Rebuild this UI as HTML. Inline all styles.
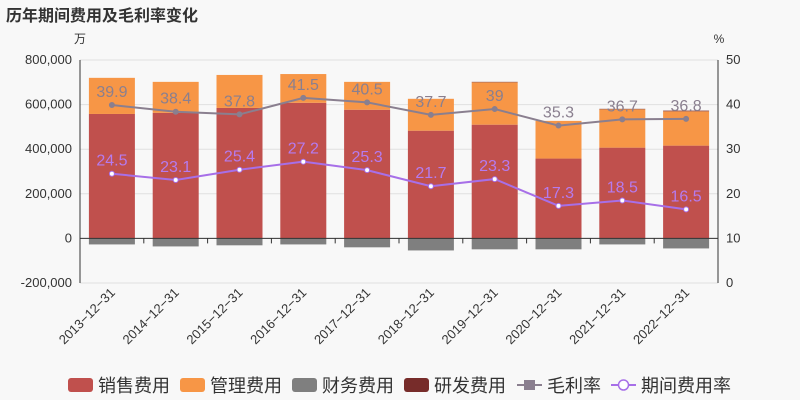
<!DOCTYPE html>
<html><head><meta charset="utf-8"><style>
html,body{margin:0;padding:0;background:#f8f8f8;}
svg{display:block;font-family:"Liberation Sans","Noto Sans CJK SC",sans-serif;}
</style></head><body>
<svg id="c" width="800" height="400">
<rect width="800" height="400" fill="#f8f8f8"/>
<text x="6" y="21" font-size="16" font-weight="bold" fill="#333">历年期间费用及毛利率变化</text>
<text x="80" y="43" font-size="12" fill="#333" text-anchor="middle">万</text>
<text x="719" y="43" font-size="12" fill="#333" text-anchor="middle">%</text>
<g id="grid"></g><g id="bars"></g><g id="lines"></g><g id="axes"></g><g id="legend"></g>
</svg>
<script>
const categories=["2013-12-31","2014-12-31","2015-12-31","2016-12-31","2017-12-31","2018-12-31","2019-12-31","2020-12-31","2021-12-31","2022-12-31"];
const sales=[558000,563000,585000,608000,577000,483000,510000,358000,407000,416000];
const mgmt=[162000,139000,148000,129000,125000,143000,190000,169000,172000,154000];
const finance=[-27000,-36000,-31000,-27000,-40000,-54000,-49000,-49000,-27000,-45000];
const rnd=[0,0,0,0,0,0,2000,0,2000,3000];
const grossMargin=[39.9,38.4,37.8,41.5,40.5,37.7,39,35.3,36.7,36.8];
const periodRate=[24.5,23.1,25.4,27.2,25.3,21.7,23.3,17.3,18.5,16.5];
const leftTicks=[-200000,0,200000,400000,600000,800000];
const rightTicks=[0,10,20,30,40,50];
const NS="http://www.w3.org/2000/svg";
const X0=80,X1=718,Y0=283,Y1=60;
const yL=v=>Y0-(v+200000)/1000000*(Y0-Y1);
const yR=v=>Y0-v/50*(Y0-Y1);
const band=(X1-X0)/categories.length;
const xC=i=>X0+band*(i+0.5);
function mk(tag,a,p,txt){const e=document.createElementNS(NS,tag);for(const k in a)e.setAttribute(k,a[k]);if(txt!==undefined)e.textContent=txt;document.getElementById(p).appendChild(e);return e;}
leftTicks.forEach((t,i)=>{
  const y=yL(t);
  const l=mk('line',{x1:X0,x2:X1,y1:y,y2:y,stroke:'#e0e0e0'},'grid');
  
  
  const tx=mk('text',{x:X0-8,y:y+4,'font-size':13,fill:'#333','text-anchor':'end'},'axes',t.toLocaleString('en-US'));
  
  
});
rightTicks.forEach(t=>{
  const tx=mk('text',{x:X1+8,y:yR(t)+4,'font-size':13,fill:'#333'},'axes',String(t));
  
  
});
let a=mk('line',{x1:X0,x2:X0,y1:Y1,y2:Y0,stroke:'#333'},'axes');

a=mk('line',{x1:X1,x2:X1,y1:Y1,y2:Y0,stroke:'#333'},'axes');

a=mk('line',{x1:X0,x2:X1,y1:yL(0),y2:yL(0),stroke:'#333'},'axes');

const bw=46;
categories.forEach((c,i)=>{
  const x=xC(i)-bw/2;
  const s=mk('rect',{x:x,y:yL(sales[i]),width:bw,height:yL(0)-yL(sales[i]),fill:'#c0504d'},'bars');
  
  const m=mk('rect',{x:x,y:yL(sales[i]+mgmt[i]),width:bw,height:yL(sales[i])-yL(sales[i]+mgmt[i]),fill:'#f79646'},'bars');
  
  const top=sales[i]+mgmt[i];
  const r=mk('rect',{x:x,y:yL(top+rnd[i]),width:bw,height:yL(top)-yL(top+rnd[i]),fill:'#772c2a'},'bars');
  
  const f=mk('rect',{x:x,y:yL(0),width:bw,height:yL(finance[i])-yL(0),fill:'#7f7f7f'},'bars');
  
  const tk=mk('line',{x1:X0+band*i,x2:X0+band*i,y1:yL(0),y2:yL(0)+5,stroke:'#333'},'axes');
  
  const lb=mk('text',{x:xC(i)+4,y:yL(0)+55,'font-size':13,fill:'#333','text-anchor':'end',transform:`rotate(-45 ${xC(i)+4} ${yL(0)+55})`},'axes',c.replace(/-/g,'−'));
  
});
function series(vals,color,labelColor,name,marker){
  const pts=vals.map((v,i)=>xC(i)+','+yR(v)).join(' ');
  const pl=mk('polyline',{points:pts,fill:'none',stroke:color,'stroke-width':2},'lines');
  
  vals.forEach((v,i)=>{
    const p=mk('circle',{cx:xC(i),cy:yR(v),r:2.5,fill:marker==='c'?'#fff':color,stroke:color},'lines');
    
    const t=mk('text',{x:xC(i),y:yR(v)-8,'font-size':16,fill:labelColor,'text-anchor':'middle'},'lines',String(v));
    
  });
}
series(grossMargin,'#8a7f8f','#8a7f8f','gross-margin','s');
series(periodRate,'#a76fe8','#b57bee','period-rate','c');
const leg=[["销售费用","#c0504d",68],["管理费用","#f79646",180],["财务费用","#7f7f7f",292],["研发费用","#772c2a",404]];
leg.forEach(l=>{
  const r=mk('rect',{x:l[2],y:378,width:25,height:14,rx:3,fill:l[1]},'legend');
  
  const t=mk('text',{x:l[2]+30,y:392,'font-size':18,fill:'#333'},'legend',l[0]);
  
});
let li=mk('line',{x1:517,x2:542,y1:385,y2:385,stroke:'#8a7f8f','stroke-width':2},'legend');

li=mk('rect',{x:524,y:380,width:11,height:10,fill:'#8a7f8f'},'legend');

li=mk('text',{x:547,y:392,'font-size':18,fill:'#333'},'legend','毛利率');

li=mk('line',{x1:611,x2:636,y1:385,y2:385,stroke:'#a76fe8','stroke-width':2},'legend');

li=mk('circle',{cx:623.5,cy:385,r:5,fill:'#fff',stroke:'#a76fe8','stroke-width':1.5},'legend');

li=mk('text',{x:641,y:392,'font-size':18,fill:'#333'},'legend','期间费用率');

</script>
</body></html>
